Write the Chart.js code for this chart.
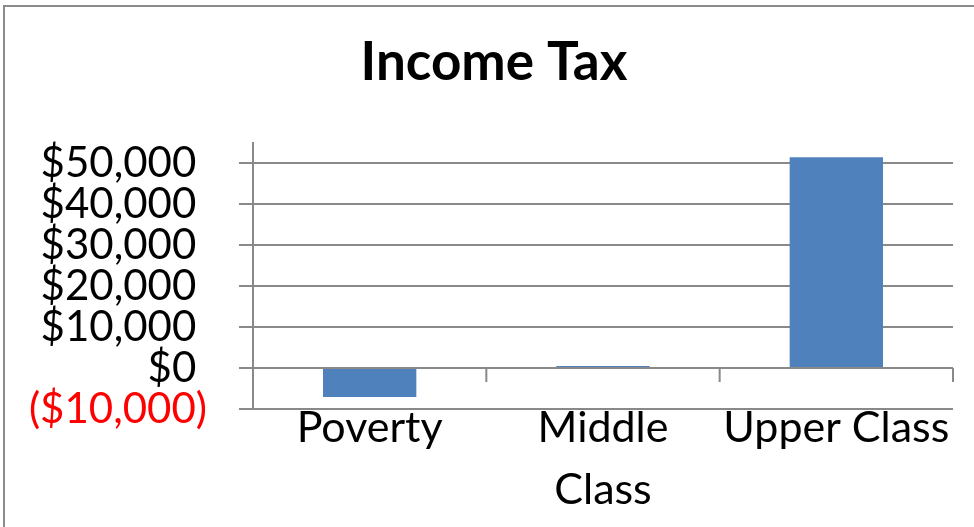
<!DOCTYPE html>
<html><head><meta charset="utf-8">
<script src="https://cdn.jsdelivr.net/npm/chart.js@4/dist/chart.umd.min.js"></script>
<style>html,body{margin:0;padding:0;background:#fff}</style>
</head><body><canvas id="c" width="974" height="527"></canvas>
<script>
const chartTitle = "Income Tax";
const categories = ["Poverty", ["Middle", "Class"], "Upper Class"];
const incomeTax = [-7100, 500, 51400];
const tickValues = [-10000, 0, 10000, 20000, 30000, 40000, 50000];

const FONT = 'Lato, "Open Sans", sans-serif';
const GRID = '#898989';

function fmt(v) {
  const s = Math.abs(v).toLocaleString('en-US');
  return v < 0 ? '($' + s + ')' : '$' + s + ' ';
}

const frame = {
  id: 'frame',
  beforeDraw(chart) {
    const ctx = chart.ctx;
    ctx.save();
    ctx.fillStyle = '#fff';
    ctx.fillRect(0, 0, chart.width, chart.height);
    ctx.strokeStyle = '#8c8c8c';
    ctx.lineWidth = 2;
    ctx.beginPath();
    ctx.moveTo(4, chart.height);
    ctx.lineTo(4, 6);
    ctx.lineTo(chart.width, 6);
    ctx.stroke();
    ctx.restore();
  },
  afterDraw(chart) {
    const x = chart.scales.x, y = chart.scales.y, ctx = chart.ctx;
    const y0 = y.getPixelForValue(0);
    ctx.save();
    ctx.strokeStyle = GRID;
    ctx.lineWidth = 2;
    ctx.beginPath();
    for (let i = 1; i <= categories.length; i++) {
      const px = i < categories.length
        ? (x.getPixelForValue(i - 1) + x.getPixelForValue(i)) / 2
        : x.right;
      ctx.moveTo(px, y0);
      ctx.lineTo(px, y0 + 14);
    }
    ctx.stroke();
    ctx.restore();
  }
};

new Chart(document.getElementById('c'), {
  type: 'bar',
  data: {
    labels: categories,
    datasets: [{
      label: chartTitle,
      data: incomeTax,
      backgroundColor: '#4f81bd',
      borderWidth: 0,
      barPercentage: 0.4,
      categoryPercentage: 1
    }]
  },
  options: {
    responsive: false,
    animation: false,
    layout: { padding: { left: 14, right: 0, top: 0, bottom: 0 } },
    plugins: {
      legend: { display: false },
      tooltip: { enabled: false },
      title: {
        display: true,
        text: chartTitle,
        color: '#000',
        font: { family: FONT, size: 53, weight: 'bold' },
        padding: { top: 31, bottom: 48 }
      }
    },
    scales: {
      x: {
        offset: true,
        grid: { display: false, drawTicks: false },
        border: { display: false },
        ticks: {
          color: '#000',
          font: { family: FONT, size: 43, lineHeight: 1.45 },
          padding: -12,
          maxRotation: 0,
          autoSkip: false
        },
        afterFit(s) { s.height = 118; }
      },
      y: {
        min: -10000,
        max: 55000,
        afterBuildTicks(s) { s.ticks = tickValues.map(v => ({ value: v })); },
        afterFit(s) { s.width = 239; },
        grid: { color: GRID, lineWidth: 2, tickLength: 14, drawTicks: true },
        border: { color: GRID, width: 2 },
        ticks: {
          autoSkip: false,
          padding: 32,
          font: { family: FONT, size: 42 },
          color: (c) => (c.tick && c.tick.value < 0 ? '#ff0000' : '#000'),
          callback: (v) => fmt(v)
        }
      },
      spacer: {
        type: 'linear',
        position: 'right',
        display: true,
        grid: { display: false, drawTicks: false },
        border: { display: false },
        ticks: { display: false },
        afterFit(s) { s.width = 21; }
      }
    }
  },
  plugins: [frame]
});
</script>
</body></html>
